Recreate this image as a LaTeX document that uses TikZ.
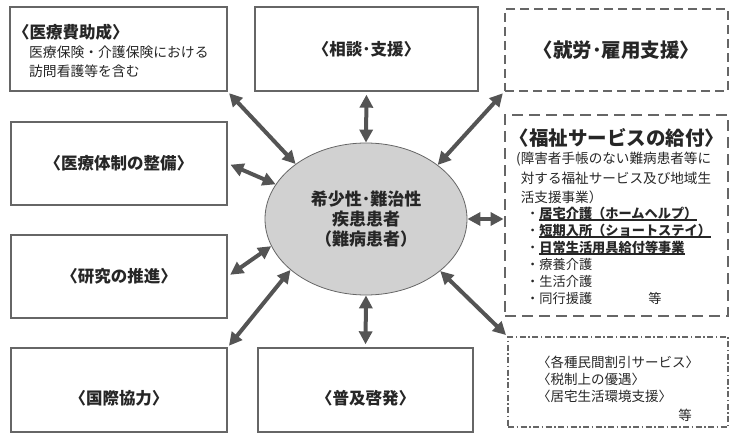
\documentclass[tikz,border=0pt]{standalone}
\usepackage{fontspec}
\setmainfont{Noto Sans CJK JP}
\usepackage{tikz}
\usetikzlibrary{arrows.meta}
\usetikzlibrary{shapes.geometric,calc}

\definecolor{framegray}{gray}{0.40}
\definecolor{arrowgray}{gray}{0.33}
\definecolor{inkgray}{gray}{0.15}
\definecolor{bodygray}{gray}{0.82}

\newcommand{\titlefont}{\fontsize{16.5}{20}\selectfont\bfseries}
\newcommand{\bigtitlefont}{\fontsize{19.5}{23}\selectfont\bfseries}
\newcommand{\ulbox}[1]{\setbox0\hbox{#1}\rlap{\vrule height -1.4pt depth 2.6pt width \wd0}\box0}

\tikzset{
  solidbox/.style={rectangle,draw=framegray,line width=1.4pt,inner sep=0pt,text=inkgray,font=\titlefont},
  dashbox/.style={rectangle,draw=framegray,line width=1.6pt,dash pattern=on 9pt off 5pt,inner sep=0pt,text=inkgray,font=\bigtitlefont},
  heavydashbox/.style={rectangle,draw=framegray,line width=2.8pt,dash pattern=on 11pt off 6pt,inner sep=0pt},
  dotdashbox/.style={rectangle,draw=framegray,line width=1.1pt,dash pattern=on 6pt off 2.5pt on 1.5pt off 2.5pt,inner sep=0pt},
  patient/.style={ellipse,draw=framegray,line width=0.8pt,fill=bodygray,inner sep=0pt,minimum width=202pt,minimum height=152pt,align=center,text=inkgray,font=\fontsize{17}{20}\selectfont\bfseries},
  plaintext/.style={inner sep=0pt,anchor=north west,align=left,text=inkgray},
  twoway/.style={{Triangle[length=13pt,width=13pt]}-{Triangle[length=13pt,width=13pt]},line width=4pt,draw=arrowgray}
}

\begin{document}
\begin{tikzpicture}[x=1pt,y=-1pt]
		\useasboundingbox (0,0) rectangle (740,444);

		\coordinate(P) at (366,219);
		\coordinate(A1) at (118.5,49);
		\coordinate(A2) at (366.5,49);
		\coordinate(A3) at (616.5,50);
		\coordinate(A4) at (616.5,215.5);
		\coordinate(A5) at (618,382);
		\coordinate(A6) at (119,163.5);
		\coordinate(A7) at (119,276.5);
		\coordinate(A8) at (119,390);
		\coordinate(A9) at (365.5,390);

		% centre
		\node[patient] (pat) at (P) {希少性･難治性\\疾患患者\\（難病患者）};

		% boxes round it
		\node[solidbox,minimum width=217pt,minimum height=84pt] (box1) at (A1) {};
		\node[solidbox,minimum width=223pt,minimum height=84pt] (box2) at (A2) {〈相談･支援〉};
		\node[dashbox,minimum width=223pt,minimum height=82pt] (box3) at (A3) {〈就労･雇用支援〉};
		\node[heavydashbox,minimum width=223pt,minimum height=201pt] (box4) at (A4) {};
		\node[dotdashbox,minimum width=220pt,minimum height=90pt] (box5) at (A5) {};
		\node[solidbox,minimum width=216pt,minimum height=83pt] (box6) at (A6) {〈医療体制の整備〉};
		\node[solidbox,minimum width=216pt,minimum height=83pt] (box7) at (A7) {〈研究の推進〉};
		\node[solidbox,minimum width=216pt,minimum height=84pt] (box8) at (A8) {};
		\node[solidbox,minimum width=215pt,minimum height=84pt] (box9) at (A9) {};

		% texts
		\node[plaintext,anchor=west,font=\titlefont] (t1) at (13,32) {〈医療費助成〉};
		\node[plaintext,font=\fontsize{13.8}{19}\selectfont] (d1) at (29,46) {医療保険・介護保険における\\訪問看護等を含む};
		\node[inner sep=0pt,text=inkgray,font=\titlefont] (t8) at ($(A8)+(0,8)$) {〈国際協力〉};
		\node[inner sep=0pt,text=inkgray,font=\titlefont] (t9) at ($(A9)+(0,8)$) {〈普及啓発〉};

		\node[inner sep=0pt,text=inkgray,font=\bigtitlefont] (t4) at (617,138) {〈福祉サービスの給付〉};
		\node[plaintext,font=\fontsize{13.6}{19.5}\selectfont] (d4) at (516,152) {(障害者手帳のない難病患者等に\\\phantom{(}対する福祉サービス及び地域生\\\phantom{(}活支援事業）};
		\node[plaintext,font=\fontsize{13.2}{17}\selectfont] (s4) at (526,206.4) {・\ulbox{\bfseries 居宅介護（ホームヘルプ）}\\・\ulbox{\bfseries 短期入所（ショートステイ）}\\・\ulbox{\bfseries 日常生活用具給付等事業}\\・療養介護\\・生活介護\\・同行援護};
		\node[inner sep=0pt,text=inkgray,font=\fontsize{13.2}{17}\selectfont] (e4) at (655,298) {等};

		\node[plaintext,font=\fontsize{13.5}{17}\selectfont] (d5) at (537,356.2) {〈各種民間割引サービス〉\\〈税制上の優遇〉\\〈居宅生活環境支援〉};
		\node[inner sep=0pt,text=inkgray,font=\fontsize{13.5}{17}\selectfont] (e5) at (685,415) {等};

		% arrows
		\draw[twoway,shorten <=2pt] (box1.south east) -- (pat.142);
		\draw[twoway,shorten <=3pt] (box2.south) -- (pat.north);
		\draw[twoway,shorten <=2pt] (box3.south west) -- (pat.37);
		\draw[twoway,shorten <=3pt] (box6.east) -- (pat.159);
		\draw[twoway] (pat.east) -- (pat.east -| box4.west);
		\draw[twoway,shorten <=3pt] (box7.east) -- (pat.196);
		\draw[twoway,shorten <=2pt] (box8.north east) -- (pat.214);
		\draw[twoway,shorten >=3pt] (pat.south) -- (box9.north);
		\draw[twoway,shorten >=2pt] (pat.325) -- (box5.north west);

	\end{tikzpicture}
\end{document}
